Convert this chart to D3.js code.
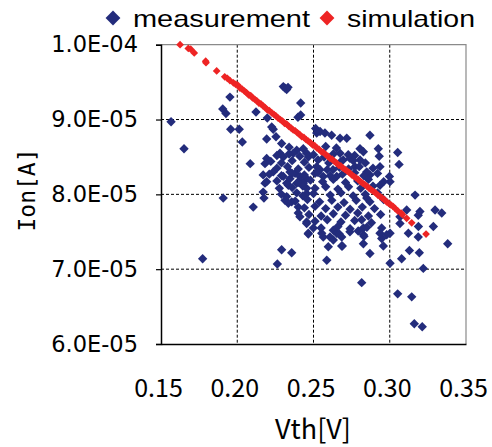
<!DOCTYPE html>
<html>
<head>
<meta charset="utf-8">
<script src="https://cdn.jsdelivr.net/npm/d3@7"></script>
<style>
  html, body { margin: 0; padding: 0; background: #fff; }
</style>
</head>
<body>
<script>
// tick values
const xTicks = [0.15, 0.20, 0.25, 0.30, 0.35];
const yTicks = [6e-5, 7e-5, 8e-5, 9e-5, 1e-4];
const seriesNames = ["measurement", "simulation"];

// measured devices: [Vth (V), Ion (A)]
const measurement = [
  // scattered points
  [0.2302, 9.44e-5], [0.2313, 9.42e-5], [0.2324, 9.40e-5], [0.2333, 9.43e-5],
  [0.1952, 9.30e-5], [0.2416, 9.22e-5], [0.1905, 9.14e-5], [0.1926, 9.08e-5],
  [0.2123, 9.10e-5], [0.2416, 9.06e-5], [0.2398, 9.03e-5], [0.2197, 9.02e-5],
  [0.1566, 8.97e-5], [0.1957, 8.87e-5], [0.2013, 8.87e-5], [0.2226, 8.90e-5],
  [0.2236, 8.87e-5], [0.2514, 8.88e-5], [0.2033, 8.70e-5], [0.2193, 8.74e-5],
  [0.2254, 8.77e-5], [0.2291, 8.68e-5], [0.1651, 8.61e-5], [0.2390, 8.59e-5],
  [0.2368, 8.55e-5], [0.2280, 8.55e-5], [0.2302, 8.50e-5], [0.2193, 8.48e-5],
  [0.2182, 8.41e-5], [0.2085, 8.41e-5], [0.2236, 8.30e-5], [0.2170, 8.26e-5],
  [0.2182, 8.15e-5], [0.2302, 8.24e-5], [0.2324, 8.15e-5], [0.2193, 8.17e-5],
  [0.2390, 8.15e-5], [0.1908, 7.95e-5], [0.2455, 8.01e-5], [0.2170, 8.03e-5],
  [0.2175, 7.95e-5], [0.2105, 7.83e-5], [0.2276, 8.08e-5], [0.2313, 7.92e-5],
  [0.2335, 7.88e-5], [0.2357, 7.90e-5], [0.2324, 7.97e-5], [0.2390, 8.02e-5],
  [0.2400, 7.83e-5], [0.2400, 7.75e-5], [0.2411, 7.70e-5], [0.2455, 7.63e-5],
  [0.2466, 7.48e-5], [0.1773, 7.14e-5], [0.2291, 7.26e-5], [0.2357, 7.22e-5],
  [0.2263, 7.07e-5], [0.2346, 8.30e-5], [0.2379, 8.28e-5], [0.2411, 8.24e-5],
  [0.2455, 8.21e-5], [0.2346, 8.21e-5], [0.2335, 8.12e-5], [0.2411, 8.19e-5],
  [0.2433, 8.15e-5], [0.2455, 8.08e-5], [0.2521, 8.82e-5], [0.2543, 8.84e-5],
  [0.2575, 8.82e-5], [0.2619, 8.79e-5], [0.2674, 8.75e-5], [0.2718, 8.75e-5],
  [0.2870, 8.79e-5], [0.2925, 8.61e-5], [0.2931, 8.51e-5], [0.3052, 8.56e-5],
  [0.3061, 8.40e-5], [0.2805, 8.61e-5], [0.2827, 8.57e-5], [0.2674, 8.55e-5],
  [0.2728, 8.53e-5], [0.2805, 8.46e-5], [0.2695, 8.46e-5], [0.2739, 8.48e-5],
  [0.2936, 8.37e-5], [0.2772, 8.37e-5], [0.2870, 8.26e-5], [0.2849, 8.30e-5],
  [0.2433, 8.61e-5], [0.2455, 8.55e-5], [0.2466, 8.50e-5], [0.2521, 8.37e-5],
  [0.2543, 8.33e-5], [0.2510, 8.28e-5], [0.2564, 8.24e-5], [0.2628, 8.33e-5],
  [0.2652, 8.24e-5], [0.2936, 8.12e-5], [0.3002, 8.17e-5], [0.2998, 8.24e-5],
  [0.2849, 7.95e-5], [0.2816, 7.66e-5], [0.2827, 7.55e-5], [0.2739, 7.50e-5],
  [0.2685, 7.43e-5], [0.2608, 7.43e-5], [0.2630, 7.52e-5], [0.2587, 7.12e-5],
  [0.2870, 7.21e-5], [0.2947, 7.55e-5], [0.3002, 7.48e-5], [0.2947, 7.41e-5],
  [0.3002, 7.08e-5], [0.3111, 7.79e-5], [0.3067, 7.70e-5], [0.3122, 7.48e-5],
  [0.3188, 7.57e-5], [0.3166, 7.99e-5], [0.3198, 7.77e-5], [0.3187, 7.72e-5],
  [0.3297, 7.79e-5], [0.3341, 7.75e-5], [0.3067, 7.61e-5], [0.3286, 7.57e-5],
  [0.3187, 7.43e-5], [0.3194, 7.22e-5], [0.3380, 7.34e-5], [0.3129, 7.25e-5],
  [0.3078, 7.14e-5], [0.3220, 7.01e-5], [0.2958, 7.31e-5], [0.2827, 7.34e-5],
  [0.2827, 7.46e-5], [0.2685, 7.31e-5], [0.2597, 7.30e-5], [0.2630, 7.39e-5],
  [0.2564, 7.43e-5], [0.2816, 6.82e-5], [0.3052, 6.67e-5], [0.3144, 6.63e-5],
  [0.3161, 6.27e-5], [0.3213, 6.23e-5], [0.2936, 7.48e-5], [0.2980, 7.46e-5],
  [0.2455, 7.61e-5], [0.2499, 7.55e-5], [0.2466, 7.47e-5], [0.2554, 7.48e-5],
  [0.2652, 7.48e-5], [0.2669, 7.47e-5], [0.2689, 7.31e-5], [0.2793, 7.51e-5],
  [0.2831, 7.44e-5],
  // dense core of the cloud
  [0.234, 8.63e-5], [0.258, 8.64e-5], [0.265, 8.62e-5],
  [0.226, 8.52e-5], [0.234, 8.54e-5], [0.241, 8.51e-5], [0.250, 8.53e-5], [0.257, 8.50e-5], [0.263, 8.54e-5], [0.277, 8.52e-5],
  [0.222, 8.44e-5], [0.229, 8.42e-5], [0.236, 8.45e-5], [0.244, 8.43e-5], [0.253, 8.46e-5], [0.260, 8.42e-5], [0.268, 8.44e-5], [0.276, 8.45e-5], [0.284, 8.42e-5],
  [0.226, 8.35e-5], [0.233, 8.37e-5], [0.240, 8.34e-5], [0.247, 8.36e-5], [0.259, 8.33e-5], [0.267, 8.36e-5], [0.273, 8.34e-5], [0.280, 8.37e-5], [0.289, 8.35e-5],
  [0.221, 8.27e-5], [0.229, 8.25e-5], [0.236, 8.28e-5], [0.244, 8.26e-5], [0.253, 8.29e-5], [0.261, 8.25e-5], [0.269, 8.27e-5], [0.277, 8.29e-5], [0.283, 8.25e-5], [0.292, 8.28e-5],
  [0.226, 8.18e-5], [0.240, 8.16e-5], [0.248, 8.19e-5], [0.256, 8.17e-5], [0.263, 8.20e-5], [0.271, 8.16e-5], [0.279, 8.18e-5], [0.286, 8.20e-5], [0.296, 8.17e-5],
  [0.236, 8.09e-5], [0.243, 8.11e-5], [0.251, 8.08e-5], [0.258, 8.10e-5], [0.266, 8.07e-5], [0.273, 8.10e-5], [0.281, 8.08e-5], [0.289, 8.11e-5],
  [0.229, 8.00e-5], [0.243, 7.98e-5], [0.250, 8.01e-5], [0.261, 7.99e-5], [0.268, 8.02e-5], [0.276, 7.98e-5], [0.284, 8.00e-5], [0.292, 8.02e-5],
  [0.238, 7.91e-5], [0.246, 7.93e-5], [0.254, 7.90e-5], [0.262, 7.92e-5], [0.270, 7.89e-5], [0.278, 7.92e-5], [0.287, 7.90e-5], [0.296, 7.93e-5],
  [0.244, 7.82e-5], [0.251, 7.84e-5], [0.258, 7.81e-5], [0.266, 7.83e-5], [0.274, 7.80e-5], [0.282, 7.83e-5], [0.290, 7.81e-5],
  [0.247, 7.73e-5], [0.255, 7.71e-5], [0.263, 7.74e-5], [0.271, 7.72e-5], [0.279, 7.75e-5], [0.286, 7.71e-5], [0.294, 7.73e-5],
  [0.251, 7.64e-5], [0.259, 7.66e-5], [0.268, 7.63e-5], [0.277, 7.65e-5], [0.288, 7.62e-5],
  [0.255, 7.55e-5], [0.266, 7.57e-5], [0.274, 7.54e-5], [0.285, 7.56e-5]
];

// simulated devices: [Vth (V), Ion (A)]
const simulation = [
  [0.1625, 10.00e-5], [0.1679, 9.95e-5], [0.1695, 9.94e-5], [0.1718, 9.89e-5], [0.1793, 9.78e-5],
  [0.1795, 9.76e-5], [0.1865, 9.65e-5], [0.1918, 9.57e-5], [0.1935, 9.55e-5], [0.1952, 9.52e-5],
  [0.1975, 9.49e-5], [0.1990, 9.47e-5], [0.2003, 9.46e-5], [0.2018, 9.42e-5], [0.2030, 9.41e-5],
  [0.2047, 9.38e-5], [0.2060, 9.36e-5], [0.2074, 9.33e-5], [0.2088, 9.32e-5], [0.2100, 9.29e-5],
  [0.2115, 9.27e-5], [0.2128, 9.25e-5], [0.2142, 9.22e-5], [0.2155, 9.21e-5], [0.2170, 9.18e-5],
  [0.2183, 9.16e-5], [0.2197, 9.13e-5], [0.2210, 9.12e-5], [0.2226, 9.09e-5], [0.2240, 9.07e-5],
  [0.2253, 9.05e-5], [0.2268, 9.02e-5], [0.2282, 9.00e-5], [0.2296, 8.98e-5], [0.2310, 8.95e-5],
  [0.2324, 8.94e-5], [0.2338, 8.91e-5], [0.2352, 8.89e-5], [0.2367, 8.86e-5], [0.2380, 8.85e-5],
  [0.2395, 8.82e-5], [0.2409, 8.80e-5], [0.2423, 8.77e-5], [0.2437, 8.76e-5], [0.2452, 8.73e-5],
  [0.2466, 8.71e-5], [0.2480, 8.69e-5], [0.2494, 8.66e-5], [0.2508, 8.65e-5], [0.2522, 8.62e-5],
  [0.2537, 8.60e-5], [0.2551, 8.57e-5], [0.2565, 8.56e-5], [0.2580, 8.53e-5], [0.2594, 8.51e-5],
  [0.2608, 8.48e-5], [0.2622, 8.47e-5], [0.2637, 8.44e-5], [0.2651, 8.42e-5], [0.2665, 8.39e-5],
  [0.2679, 8.38e-5], [0.2694, 8.35e-5], [0.2708, 8.33e-5], [0.2722, 8.31e-5], [0.2736, 8.29e-5],
  [0.2751, 8.26e-5], [0.2765, 8.24e-5], [0.2779, 8.22e-5], [0.2793, 8.20e-5], [0.2808, 8.17e-5],
  [0.2822, 8.15e-5], [0.2836, 8.13e-5], [0.2850, 8.11e-5], [0.2865, 8.08e-5], [0.2879, 8.06e-5],
  [0.2893, 8.04e-5], [0.2907, 8.02e-5], [0.2922, 7.99e-5], [0.2936, 7.97e-5], [0.2950, 7.95e-5],
  [0.2964, 7.93e-5], [0.2979, 7.90e-5], [0.2993, 7.88e-5], [0.3007, 7.86e-5], [0.3021, 7.84e-5],
  [0.3036, 7.81e-5], [0.3052, 7.78e-5], [0.3075, 7.75e-5], [0.3083, 7.73e-5], [0.3111, 7.68e-5],
  [0.3144, 7.62e-5], [0.3238, 7.47e-5]
];

const width = 492, height = 447;
const margin = {top: 44.7, right: 26, bottom: 103, left: 161};
const iw = width - margin.left - margin.right;
const ih = height - margin.top - margin.bottom;

const colors = {measurement: "#232c7c", simulation: "#ee2424"};

const svg = d3.select("body").append("svg")
  .attr("width", width)
  .attr("height", height);

const g = svg.append("g")
  .attr("transform", "translate(" + margin.left + "," + margin.top + ")");

const x = d3.scaleLinear().domain([0.15, 0.35]).range([0, iw]);
const y = d3.scaleLinear().domain([6e-5, 1e-4]).range([ih, 0]);

// 1.0E-04 style labels
function sci(v) {
  const parts = v.toExponential(1).split("e");
  const e = +parts[1];
  return parts[0] + "E" + (e < 0 ? "-" : "+") + String(Math.abs(e)).padStart(2, "0");
}

// dashed grid
g.append("g").selectAll("line")
  .data(xTicks.slice(1, -1))
  .join("line")
  .attr("x1", d => x(d)).attr("x2", d => x(d))
  .attr("y1", 0).attr("y2", ih)
  .attr("stroke", "#000").attr("stroke-width", 1)
  .attr("stroke-dasharray", "3,2");

g.append("g").selectAll("line")
  .data(yTicks.slice(1, -1))
  .join("line")
  .attr("x1", 0).attr("x2", iw)
  .attr("y1", d => y(d)).attr("y2", d => y(d))
  .attr("stroke", "#000").attr("stroke-width", 1)
  .attr("stroke-dasharray", "3,2");

// top and right frame
g.append("path")
  .attr("d", "M0,0H" + iw + "V" + ih)
  .attr("fill", "none")
  .attr("stroke", "#8a8a8a")
  .attr("stroke-width", 1.2);

// points
const diamond = d3.symbol().type(d3.symbolSquare);

g.append("g").selectAll("path")
  .data(measurement)
  .join("path")
  .attr("d", diamond.size(44)())
  .attr("transform", d => "translate(" + x(d[0]) + "," + y(d[1]) + ") rotate(45)")
  .attr("fill", colors.measurement);

g.append("g").selectAll("path")
  .data(simulation)
  .join("path")
  .attr("d", diamond.size(30)())
  .attr("transform", d => "translate(" + x(d[0]) + "," + y(d[1]) + ") rotate(45)")
  .attr("fill", colors.simulation);

// axes
const yAxis = g.append("g")
  .call(d3.axisLeft(y).tickValues(yTicks).tickFormat(sci).tickSize(5).tickPadding(18));

const xAxis = g.append("g")
  .attr("transform", "translate(0," + ih + ")")
  .call(d3.axisBottom(x).tickValues(xTicks).tickFormat(d3.format(".2f")).tickSize(0));

[yAxis, xAxis].forEach(a => {
  a.select(".domain").attr("stroke", "#000").attr("stroke-width", 1.5);
  a.selectAll(".tick line").attr("stroke", "#000").attr("stroke-width", 1.2);
});

yAxis.selectAll("text")
  .attr("font-family", "DejaVu Sans")
  .attr("font-size", 22.5)
  .attr("fill", "#000");

xAxis.selectAll("text")
  .attr("font-family", "'Noto Sans CJK JP'")
  .attr("font-size", 25)
  .attr("fill", "#000")
  .attr("dy", null)
  .attr("dx", -3)
  .attr("y", 53);

// axis titles
svg.append("text")
  .attr("x", 313).attr("y", 439)
  .attr("text-anchor", "middle")
  .attr("font-family", "'Noto Sans CJK JP'")
  .attr("font-size", 27)
  .text("Vth[V]");

svg.append("text")
  .attr("transform", "translate(35,190) rotate(-90)")
  .attr("text-anchor", "middle")
  .attr("font-family", "DejaVu Sans Mono")
  .attr("font-size", 23)
  .text("Ion[A]");

// legend
const legendX = [113, 327];
const legendW = [177, 128];
const legend = svg.append("g").selectAll("g")
  .data(seriesNames)
  .join("g")
  .attr("transform", (d, i) => "translate(" + legendX[i] + ",18)");

legend.append("path")
  .attr("d", diamond.size(110)())
  .attr("transform", "rotate(45)")
  .attr("fill", d => colors[d]);

legend.append("text")
  .attr("x", 20).attr("y", 9)
  .attr("font-family", "Liberation Sans")
  .attr("font-size", 24)
  .attr("textLength", (d, i) => legendW[i])
  .attr("lengthAdjust", "spacingAndGlyphs")
  .text(d => d);
</script>
</body>
</html>
